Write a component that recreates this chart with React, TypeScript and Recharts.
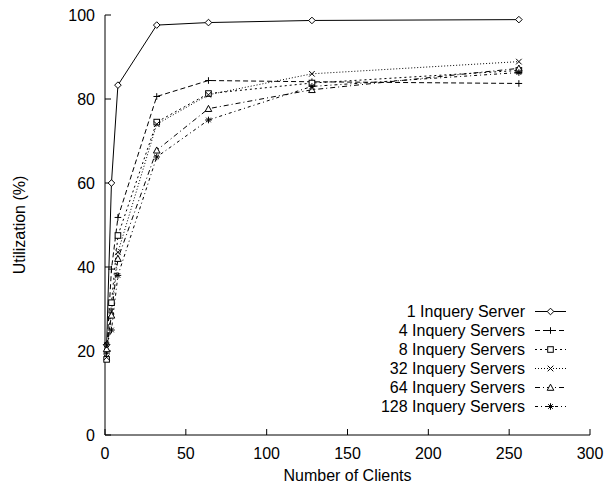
import React from 'react';
import { LineChart, Line, XAxis, YAxis, Legend } from 'recharts';

// number of clients on the x axis
const clients = [1, 4, 8, 32, 64, 128, 256];

// utilization (%) per configuration
const oneServer = [21.5, 60, 83.3, 97.6, 98.2, 98.7, 98.9];
const fourServers = [19.5, 39.5, 51.8, 80.6, 84.4, 84.1, 83.7];
const eightServers = [18.0, 31.5, 47.5, 74.5, 81.3, 83.8, 86.8];
const thirtyTwoServers = [18.5, 29.5, 43.5, 74.0, 81.0, 86.0, 88.9];
const sixtyFourServers = [20.5, 28.5, 42.0, 67.8, 77.7, 82.2, 87.3];
const oneTwentyEightServers = [21.5, 25.0, 38.0, 66.2, 75.0, 83.0, 86.3];

const xTicks = [0, 50, 100, 150, 200, 250, 300];
const yTicks = [0, 20, 40, 60, 80, 100];

const series = [
  { key: 's1', name: '1 Inquery Server', values: oneServer, shape: 'diamond', dash: undefined },
  { key: 's4', name: '4 Inquery Servers', values: fourServers, shape: 'plus', dash: '5 3' },
  { key: 's8', name: '8 Inquery Servers', values: eightServers, shape: 'square', dash: '2 3' },
  { key: 's32', name: '32 Inquery Servers', values: thirtyTwoServers, shape: 'cross', dash: '1 2' },
  { key: 's64', name: '64 Inquery Servers', values: sixtyFourServers, shape: 'triangle', dash: '5 3 1 3' },
  { key: 's128', name: '128 Inquery Servers', values: oneTwentyEightServers, shape: 'star', dash: '3 3 1 3' },
];

const data = clients.map((c, i) => {
  const row: Record<string, number> = { clients: c };
  series.forEach(s => { row[s.key] = s.values[i]; });
  return row;
});

const FONT = '"Liberation Sans", Arial, sans-serif';
const INK = '#000';

function Marker({ shape, cx, cy }: { shape: string; cx: number; cy: number }) {
  const r = 2.8;
  switch (shape) {
    case 'diamond':
      return <path d={`M${cx},${cy - r - 0.5}L${cx + r + 0.5},${cy}L${cx},${cy + r + 0.5}L${cx - r - 0.5},${cy}Z`} fill="#fff" stroke={INK} strokeWidth={1} />;
    case 'plus':
      return <path d={`M${cx - r - 0.5},${cy}H${cx + r + 0.5}M${cx},${cy - r - 0.5}V${cy + r + 0.5}`} stroke={INK} strokeWidth={1} fill="none" />;
    case 'square':
      return <rect x={cx - r} y={cy - r} width={r * 2} height={r * 2} fill="#fff" stroke={INK} strokeWidth={1} />;
    case 'cross':
      return <path d={`M${cx - r},${cy - r}L${cx + r},${cy + r}M${cx - r},${cy + r}L${cx + r},${cy - r}`} stroke={INK} strokeWidth={1} fill="none" />;
    case 'triangle':
      return <path d={`M${cx},${cy - r - 0.5}L${cx + r + 0.5},${cy + r}L${cx - r - 0.5},${cy + r}Z`} fill="#fff" stroke={INK} strokeWidth={1} />;
    case 'star':
      return <path d={`M${cx - r - 0.5},${cy}H${cx + r + 0.5}M${cx},${cy - r - 0.5}V${cy + r + 0.5}M${cx - r + 0.5},${cy - r + 0.5}L${cx + r - 0.5},${cy + r - 0.5}M${cx - r + 0.5},${cy + r - 0.5}L${cx + r - 0.5},${cy - r + 0.5}`} stroke={INK} strokeWidth={1} fill="none" />;
    default:
      return null;
  }
}

function YLabel({ viewBox }: any) {
  const x = viewBox.x + 25;
  const y = viewBox.y + viewBox.height / 2;
  return (
    <text x={x} y={y} transform={`rotate(-90, ${x}, ${y})`} textAnchor="middle" fontFamily={FONT} fontSize={16} fill={INK}>
      Utilization (%)
    </text>
  );
}

function XLabel({ viewBox }: any) {
  const x = viewBox.x + viewBox.width / 2;
  const y = viewBox.y + 46;
  return (
    <text x={x} y={y} textAnchor="middle" fontFamily={FONT} fontSize={16} fill={INK}>
      Number of Clients
    </text>
  );
}

function LegendBox() {
  return (
    <div style={{ fontFamily: FONT, fontSize: 16, color: INK }}>
      {series.map(s => (
        <div key={s.key} style={{ display: 'flex', alignItems: 'center', height: 19 }}>
          <div style={{ width: 165, textAlign: 'right', whiteSpace: 'nowrap', lineHeight: '19px' }}>{s.name}</div>
          <svg width={42} height={19} style={{ display: 'block' }}>
            <line x1={10} x2={41} y1={9.5} y2={9.5} stroke={INK} strokeWidth={1} strokeDasharray={s.dash} />
            <Marker shape={s.shape} cx={25.5} cy={9.5} />
          </svg>
        </div>
      ))}
    </div>
  );
}

export default function App() {
  return (
    <div style={{ position: 'absolute', left: 0, top: 0, width: 616, height: 487, background: '#fff' }}>
      <LineChart width={616} height={487} data={data} margin={{ top: 15, right: 26, bottom: 0, left: 0 }}>
        <XAxis
          xAxisId="bottom"
          dataKey="clients"
          type="number"
          domain={[0, 300]}
          ticks={xTicks}
          height={52}
          tickSize={-6}
          tickMargin={19}
          axisLine={{ stroke: INK }}
          tickLine={{ stroke: INK }}
          tick={{ fill: INK, fontFamily: FONT, fontSize: 16 }}
          label={<XLabel />}
        />
        <XAxis
          xAxisId="top"
          orientation="top"
          dataKey="clients"
          type="number"
          domain={[0, 300]}
          ticks={xTicks}
          height={0}
          tickSize={-6}
          axisLine={{ stroke: INK }}
          tickLine={{ stroke: INK }}
          tick={false}
        />
        <YAxis
          yAxisId="left"
          type="number"
          domain={[0, 100]}
          ticks={yTicks}
          width={105}
          tickSize={-6}
          tickMargin={16}
          axisLine={{ stroke: INK }}
          tickLine={{ stroke: INK }}
          tick={{ fill: INK, fontFamily: FONT, fontSize: 16 }}
          label={<YLabel />}
        />
        <YAxis
          yAxisId="right"
          orientation="right"
          type="number"
          domain={[0, 100]}
          ticks={yTicks}
          width={0}
          tickSize={-6}
          axisLine={{ stroke: INK }}
          tickLine={{ stroke: INK }}
          tick={false}
        />
        <Legend
          layout="vertical"
          align="center"
          verticalAlign="middle"
          wrapperStyle={{ left: 360, top: 302, width: 215 }}
          content={() => <LegendBox />}
        />
        {series.map(s => (
          <Line
            key={s.key}
            xAxisId="bottom"
            yAxisId="left"
            type="linear"
            dataKey={s.key}
            name={s.name}
            stroke={INK}
            strokeWidth={1}
            strokeDasharray={s.dash}
            isAnimationActive={false}
            dot={(p: any) => <Marker key={`${s.key}-${p.index}`} shape={s.shape} cx={p.cx} cy={p.cy} />}
            activeDot={false}
          />
        ))}
      </LineChart>
    </div>
  );
}
